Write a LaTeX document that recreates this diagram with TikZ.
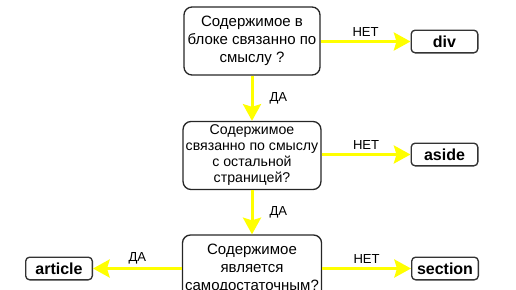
\documentclass[tikz,border=0pt]{standalone}
\usepackage{fontspec}
\setmainfont{Liberation Sans}
\usetikzlibrary{arrows.meta}
\definecolor{flowyellow}{RGB}{255,255,0}

\begin{document}
\begin{tikzpicture}[x=0.75pt, y=-0.75pt,
	question/.style={shape=rectangle, draw=black!85, line width=1pt, rounded corners=6pt, minimum width=102pt, minimum height=51pt, align=center, inner sep=2pt, font=\fontsize{11.25}{13.5}\selectfont},
	answer/.style={shape=rectangle, draw=black!80, line width=1pt, rounded corners=3pt, minimum width=50pt, minimum height=17pt, inner sep=0pt, font=\fontsize{12}{13}\selectfont\bfseries},
	flow/.style={draw=flowyellow, line width=2.25pt, -{Stealth[length=12.5pt, width=13.5pt, inset=2pt]}},
	flowlabel/.style={font=\fontsize{9.8}{11}\selectfont, inner sep=2pt}]
	\clip (0, 0) rectangle (516, 289);
	% Questions:
	\node[question] (Q1) at (252, 41){Содержимое в\\блоке связанно по\\смыслу ?};
	\node[question, font=\fontsize{10.6}{12}\selectfont] (Q2) at (252, 155.5){Содержимое\\связанно по смыслу\\с остальной\\страницей?};
	\node[question, minimum width=103pt] (Q3) at (252, 269){Содержимое\\является\\самодостаточным?};
	% Answers:
	\node[answer] (Div) at (444.5, 41.5){div};
	\node[answer] (Aside) at (444.5, 154.5){aside};
	\node[answer] (Section) at (445, 268.5){section};
	\node[answer] (Article) at (59, 268.5){article};
	% Arrows:
	\draw[flow] (Q1) -- node[flowlabel, midway, right=10pt]{ДА} (Q2);
	\draw[flow] (Q2) -- node[flowlabel, midway, right=10pt]{ДА} (Q3);
	\draw[flow] (Q1.east |- Div) -- node[flowlabel, midway, above=0.5pt]{НЕТ} (Div);
	\draw[flow] (Q2.east |- Aside) -- node[flowlabel, midway, above=0.5pt]{НЕТ} (Aside);
	\draw[flow] (Q3.east |- Section) -- node[flowlabel, midway, above=0.5pt]{НЕТ} (Section);
	\draw[flow] (Q3.west |- Article) -- node[flowlabel, midway, above=0.5pt]{ДА} (Article);
\end{tikzpicture}
\end{document}
